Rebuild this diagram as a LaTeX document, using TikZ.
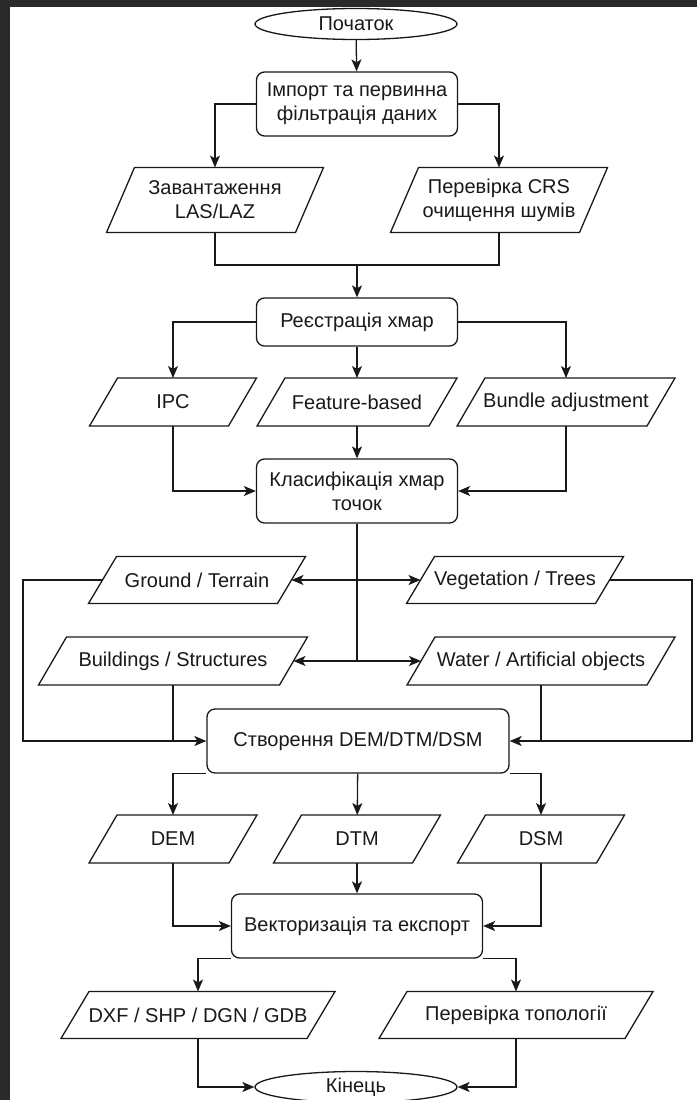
\documentclass[tikz,border=0pt]{standalone}
\usepackage{fontspec}
\setmainfont{Liberation Sans}
\usetikzlibrary{arrows.meta,positioning,calc,shapes.geometric}
\definecolor{frame}{RGB}{42,42,42}
\definecolor{ink}{RGB}{25,25,25}

\begin{document}
\begin{tikzpicture}[x=1pt,y=-1pt,
  font=\fontsize{20}{24}\selectfont,
  base/.style={draw=ink,line width=1.3pt,text=ink,inner sep=0.5pt,align=center},
  term/.style={base,ellipse,minimum width=202pt,minimum height=31pt},
  proc/.style={base,rectangle,rounded corners=8pt,minimum width=201pt,minimum height=64pt},
  io/.style={base,draw=none,rectangle,outer sep=0pt,minimum height=48pt},
  link/.style={draw=ink,line width=1.3pt},
  arr/.style={link,-{Stealth[length=12pt,width=10pt,inset=3pt]}}]

% screenshot frame
\fill[frame] (0,0) rectangle (697,1100);
\fill[white] (10,7) rectangle (697,1100);
\useasboundingbox (0,0) rectangle (697,1100);

% import
\node[term] (start) at (356,24) {Початок};
\node[proc] (imp) at (357,104) {Імпорт та первинна\\фільтрація даних};
\node[io,minimum width=189pt,minimum height=65pt] (las) at (215,200) {Завантаження\\LAS/LAZ};
\node[io,minimum width=189pt,minimum height=65pt] (crs) at (499,200) {Перевірка CRS\\очищення шумів};
\coordinate (merge) at (357,265);

% registration
\node[proc,minimum height=48pt] (reg) at (357,322) {Реєстрація хмар};
\node[io,minimum width=139pt] (ipc) at (173,402) {IPC};
\node[io,minimum width=172pt] (feat) at (357,402) {Feature-based};
\node[io,minimum width=190pt] (bund) at (566,402) {Bundle adjustment};

% classification
\node[proc] (cls) at (357,491) {Класифікація хмар\\точок};
\node[io,minimum width=189pt,minimum height=47pt] (ground) at (197,580) {Ground / Terrain};
\node[io,minimum width=189pt,minimum height=47pt] (veg) at (515,580) {Vegetation / Trees};
\node[io,minimum width=241pt] (build) at (173,661) {Buildings / Structures};
\node[io,minimum width=240pt] (water) at (541,661) {Water / Artificial objects};
\coordinate (fork1) at (357,580);
\coordinate (fork2) at (357,661);

% surfaces
\node[proc,minimum width=302pt] (surf) at (358,741) {Створення DEM/DTM/DSM};
\coordinate (lbus) at (23,741);
\coordinate (rbus) at (692,741);
\node[io,minimum width=140pt] (dem) at (173,839) {DEM};
\node[io,minimum width=139pt] (dtm) at (357,839) {DTM};
\node[io,minimum width=139pt] (dsm) at (541,839) {DSM};

% export
\node[proc,minimum width=251pt] (vec) at (357,926) {Векторизація та експорт};
\node[io,minimum width=246pt,minimum height=47pt] (dxf) at (198,1015) {DXF / SHP / DGN / GDB};
\node[io,minimum width=246pt,minimum height=47pt] (topo) at (516,1015) {Перевірка топології};
\node[term] (finish) at (356,1087) {Кінець};

% slanted data frames
\foreach \n in {las,crs,ipc,feat,bund,ground,veg,build,water,dem,dtm,dsm,dxf,topo}
  \draw[link] ($(\n.south west)+(-14,0)$) -- ($(\n.south east)+(-14,0)$)
    -- ($(\n.north east)+(14,0)$) -- ($(\n.north west)+(14,0)$) -- cycle;

% connectors
\draw[arr] (start) -- (imp);
\draw[arr] (imp) -| (las);
\draw[arr] (imp) -| (crs);
\draw[link] (las) |- (merge) -| (crs);
\draw[arr] (merge) -- (reg);
\draw[arr] (reg) -| (ipc);
\draw[arr] (reg) -- (feat);
\draw[arr] (reg) -| (bund);
\draw[arr] (feat) -- (cls);
\draw[arr] (ipc) |- (cls);
\draw[arr] (bund) |- (cls);
\draw[link] (cls) -- (fork2);
\draw[arr] (fork1) -- (ground);
\draw[arr] (fork1) -- (veg);
\draw[arr] (fork2) -- (build);
\draw[arr] (fork2) -- (water);
\draw[arr] (ground) -| (lbus) -- (surf);
\draw[link] (build) -- (build |- surf);
\draw[arr] (veg) -| (rbus) -- (surf);
\draw[link] (water) -- (water |- surf);
\draw[arr] (surf.south west) -| (dem);
\draw[arr] (surf) -- (dtm);
\draw[arr] (surf.south east) -| (dsm);
\draw[arr] (dem) |- (vec);
\draw[arr] (dtm) -- (vec);
\draw[arr] (dsm) |- (vec);
\draw[arr] (vec.south west) -| (dxf);
\draw[arr] (vec.south east) -| (topo);
\draw[arr] (dxf) |- (finish);
\draw[arr] (topo) |- (finish);
\end{tikzpicture}
\end{document}
